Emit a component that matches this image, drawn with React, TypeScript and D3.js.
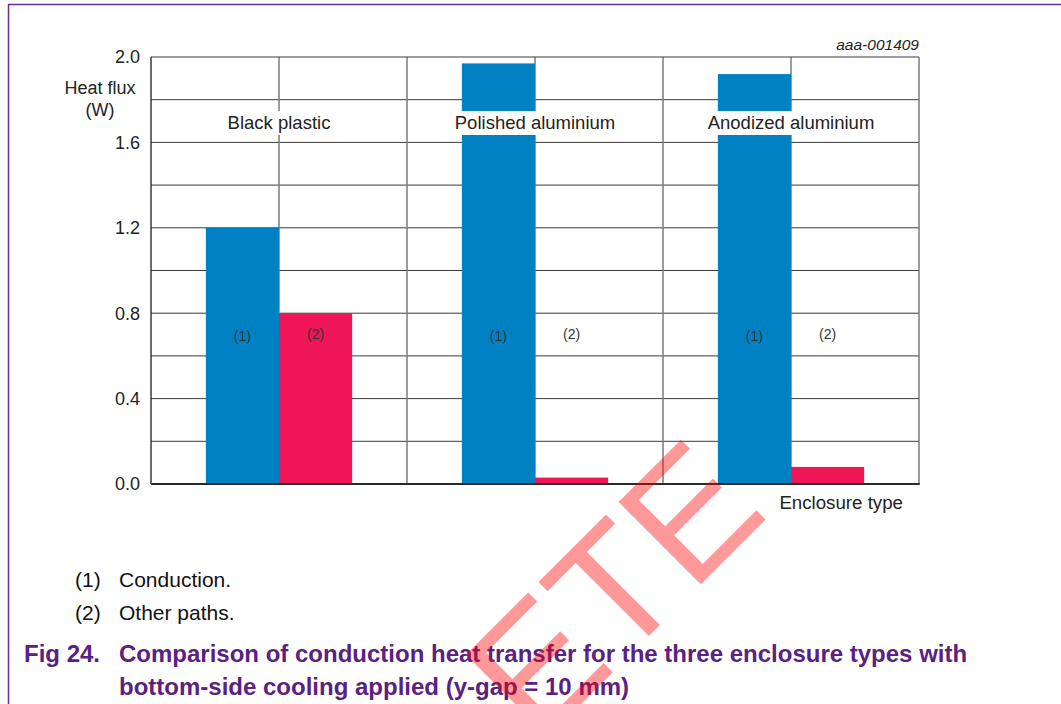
import React, { useEffect, useRef } from "react";
import * as d3 from "d3";

const categories = ["Black plastic", "Polished aluminium", "Anodized aluminium"];
const seriesKeys = ["(1)", "(2)"];
const conduction = [1.2, 1.97, 1.92];
const otherPaths = [0.8, 0.03, 0.08];
const yTickValues = [0, 0.4, 0.8, 1.2, 1.6, 2.0];
const yTickLabels = ["0.0", "0.4", "0.8", "1.2", "1.6", "2.0"];
const legendItems = ["Conduction.", "Other paths."];
const titleLines = [
  "Comparison of conduction heat transfer for the three enclosure types with",
  "bottom-side cooling applied (y-gap = 10 mm)",
];

const W = 1061;
const H = 704;
const FONT = "'Liberation Sans', Arial, Helvetica, sans-serif";
const BLUE = "#0081C3";
const RED = "#EE1656";
const PURPLE = "#5B2181";

export default function App() {
  const ref = useRef<SVGSVGElement | null>(null);

  useEffect(() => {
    const svg = d3.select(ref.current);
    svg.selectAll("*").remove();

    const left = 151, right = 919, top = 57, bottom = 484;
    const x = d3.scaleBand<string>().domain(categories).range([left, right]).padding(0);
    const xs = d3.scaleBand<string>().domain(seriesKeys).range([0, x.bandwidth()]).paddingInner(0).paddingOuter(0.75);
    const y = d3.scaleLinear().domain([0, 2]).range([bottom, top]);

    // page frame
    svg.append("line").attr("x1", 8).attr("x2", W).attr("y1", 4.5).attr("y2", 4.5)
      .attr("stroke", "#6a2a8e").attr("stroke-width", 1.5);
    svg.append("line").attr("x1", 8.5).attr("x2", 8.5).attr("y1", 4).attr("y2", H)
      .attr("stroke", "#6a2a8e").attr("stroke-width", 1.5);

    const g = svg.append("g");

    // horizontal gridlines
    g.selectAll("line.h").data(y.ticks(10).filter((v) => v > 0 && v < 2)).enter().append("line")
      .attr("x1", left).attr("x2", right)
      .attr("y1", (d) => y(d)).attr("y2", (d) => y(d))
      .attr("stroke", "#3a3a3a").attr("stroke-width", 1);

    // vertical gridlines (band edges and centres)
    const vx: number[] = [];
    categories.forEach((c) => {
      vx.push(x(c)! + x.bandwidth() / 2);
      vx.push(x(c)! + x.bandwidth());
    });
    vx.pop();
    g.selectAll("line.v").data(vx).enter().append("line")
      .attr("x1", (d) => d).attr("x2", (d) => d)
      .attr("y1", top).attr("y2", bottom)
      .attr("stroke", "#7a7a7a").attr("stroke-width", 1.5);

    // bars
    const seriesData = [conduction, otherPaths];
    const colors = [BLUE, RED];
    seriesData.forEach((vals, si) => {
      g.selectAll(`rect.s${si}`).data(vals).enter().append("rect")
        .attr("x", (_d, i) => x(categories[i])! + xs(seriesKeys[si])!)
        .attr("width", xs.bandwidth())
        .attr("y", (d) => y(d))
        .attr("height", (d) => y(0) - y(d))
        .attr("fill", colors[si]);
    });

    // frame lines of plot
    g.append("line").attr("x1", left).attr("x2", right).attr("y1", top).attr("y2", top)
      .attr("stroke", "#3a3a3a").attr("stroke-width", 1.2);
    g.append("line").attr("x1", left).attr("x2", left).attr("y1", top).attr("y2", bottom)
      .attr("stroke", "#3a3a3a").attr("stroke-width", 1.5);
    g.append("line").attr("x1", right).attr("x2", right).attr("y1", top).attr("y2", bottom)
      .attr("stroke", "#7a7a7a").attr("stroke-width", 1.5);
    g.append("line").attr("x1", left).attr("x2", right + 0.75).attr("y1", bottom).attr("y2", bottom)
      .attr("stroke", "#2a2a2a").attr("stroke-width", 2);

    // bar labels (1) / (2)
    const labelVals = [0.67, 0.68];
    seriesKeys.forEach((k, si) => {
      g.selectAll(`text.l${si}`).data(categories).enter().append("text")
        .attr("x", (c) => x(c)! + xs(k)! + xs.bandwidth() / 2)
        .attr("y", y(labelVals[si]))
        .attr("text-anchor", "middle")
        .attr("font-family", FONT).attr("font-size", 14).attr("fill", "#333")
        .text(k);
    });

    // category labels with white backing
    categories.forEach((c) => {
      const cx = x(c)! + x.bandwidth() / 2;
      const bg = g.append("rect").attr("fill", "#fff");
      const t = g.append("text").attr("x", cx).attr("y", 129)
        .attr("text-anchor", "middle").attr("font-family", FONT).attr("font-size", 18.5)
        .attr("fill", "#222").text(c);
      const bb = (t.node() as SVGTextElement).getBBox();
      bg.attr("x", bb.x - 2).attr("width", bb.width + 4).attr("y", 111).attr("height", 24);
    });

    // y tick labels
    g.selectAll("text.yt").data(yTickValues).enter().append("text")
      .attr("x", 140).attr("y", (d) => y(d)).attr("dy", "0.35em")
      .attr("text-anchor", "end").attr("font-family", FONT).attr("font-size", 18).attr("fill", "#222")
      .text((_d, i) => yTickLabels[i]);

    // y axis title
    g.append("text").attr("x", 100).attr("y", 94).attr("text-anchor", "middle")
      .attr("font-family", FONT).attr("font-size", 18).attr("fill", "#222").text("Heat flux");
    g.append("text").attr("x", 100).attr("y", 116).attr("text-anchor", "middle")
      .attr("font-family", FONT).attr("font-size", 18).attr("fill", "#222").text("(W)");

    // code
    g.append("text").attr("x", right).attr("y", 50).attr("text-anchor", "end")
      .attr("font-family", FONT).attr("font-size", 15.5).attr("font-style", "italic").attr("fill", "#222")
      .text("aaa-001409");

    // x axis title
    g.append("text").attr("x", 903).attr("y", 509).attr("text-anchor", "end")
      .attr("font-family", FONT).attr("font-size", 18.7).attr("fill", "#222").text("Enclosure type");

    // legend notes
    legendItems.forEach((item, i) => {
      const yy = 587 + i * 33;
      g.append("text").attr("x", 75).attr("y", yy).attr("font-family", FONT).attr("font-size", 21)
        .attr("fill", "#111").text(seriesKeys[i]);
      g.append("text").attr("x", 119).attr("y", yy).attr("font-family", FONT).attr("font-size", 21)
        .attr("fill", "#111").text(item);
    });

    // figure title
    g.append("text").attr("x", 24).attr("y", 661.5).attr("font-family", FONT).attr("font-size", 24)
      .attr("font-weight", "bold").attr("fill", PURPLE).text("Fig 24.");
    titleLines.forEach((line, i) => {
      g.append("text").attr("x", 119).attr("y", 661.5 + i * 33).attr("font-family", FONT)
        .attr("font-size", 24).attr("font-weight", "bold").attr("fill", PURPLE).text(line);
    });

    // watermark
    svg.append("text")
      .attr("transform", "translate(770.7,514.3) rotate(-45)")
      .attr("text-anchor", "end")
      .attr("font-family", FONT).attr("font-size", 169)
      .attr("fill", "#ff0000").attr("fill-opacity", 0.4)
      .text("OBSOLETE");
  }, []);

  return (
    <svg
      ref={ref}
      width={W}
      height={H}
      style={{ position: "absolute", left: 0, top: 0, background: "#fff" }}
    />
  );
}
